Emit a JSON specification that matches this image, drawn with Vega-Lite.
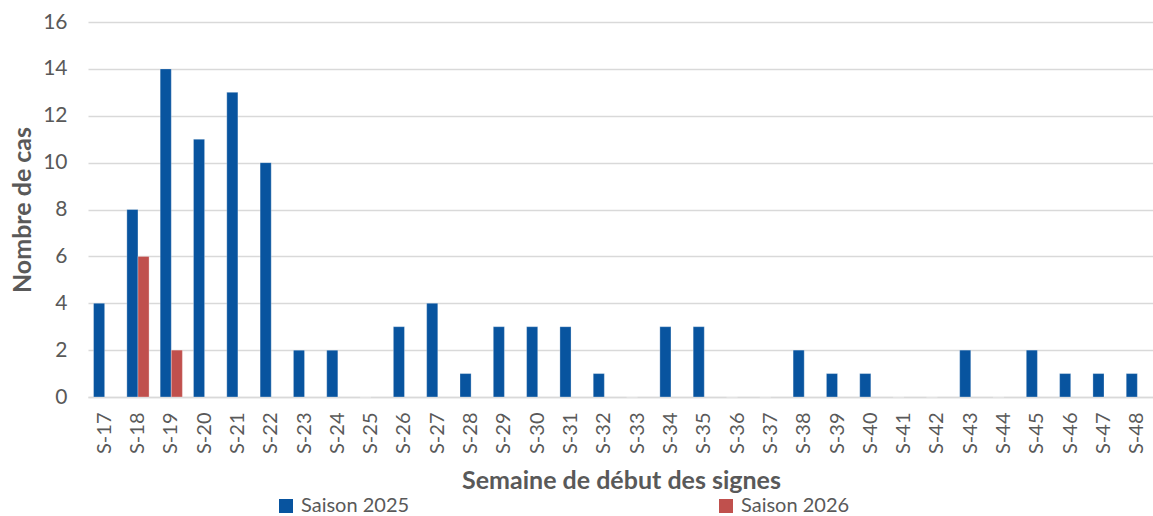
{
  "$schema": "https://vega.github.io/schema/vega-lite/v6.json",
  "width": 1066,
  "height": 375,
  "autosize": "none",
  "padding": {"left": 88, "top": 22, "right": 0, "bottom": 119},
  "background": "white",
  "config": {
    "font": "Lato",
    "view": {"stroke": null},
    "axis": {"labelColor": "#595959", "titleColor": "#595959", "labelFont": "Lato", "titleFont": "Lato"}
  },
  "data": {"values": [
    {"semaine": "S-17", "saison": "Saison 2025", "cas": 4},
    {"semaine": "S-18", "saison": "Saison 2025", "cas": 8},
    {"semaine": "S-18", "saison": "Saison 2026", "cas": 6},
    {"semaine": "S-19", "saison": "Saison 2025", "cas": 14},
    {"semaine": "S-19", "saison": "Saison 2026", "cas": 2},
    {"semaine": "S-20", "saison": "Saison 2025", "cas": 11},
    {"semaine": "S-21", "saison": "Saison 2025", "cas": 13},
    {"semaine": "S-22", "saison": "Saison 2025", "cas": 10},
    {"semaine": "S-23", "saison": "Saison 2025", "cas": 2},
    {"semaine": "S-24", "saison": "Saison 2025", "cas": 2},
    {"semaine": "S-25", "saison": "Saison 2025", "cas": 0},
    {"semaine": "S-26", "saison": "Saison 2025", "cas": 3},
    {"semaine": "S-27", "saison": "Saison 2025", "cas": 4},
    {"semaine": "S-28", "saison": "Saison 2025", "cas": 1},
    {"semaine": "S-29", "saison": "Saison 2025", "cas": 3},
    {"semaine": "S-30", "saison": "Saison 2025", "cas": 3},
    {"semaine": "S-31", "saison": "Saison 2025", "cas": 3},
    {"semaine": "S-32", "saison": "Saison 2025", "cas": 1},
    {"semaine": "S-33", "saison": "Saison 2025", "cas": 0},
    {"semaine": "S-34", "saison": "Saison 2025", "cas": 3},
    {"semaine": "S-35", "saison": "Saison 2025", "cas": 3},
    {"semaine": "S-36", "saison": "Saison 2025", "cas": 0},
    {"semaine": "S-37", "saison": "Saison 2025", "cas": 0},
    {"semaine": "S-38", "saison": "Saison 2025", "cas": 2},
    {"semaine": "S-39", "saison": "Saison 2025", "cas": 1},
    {"semaine": "S-40", "saison": "Saison 2025", "cas": 1},
    {"semaine": "S-41", "saison": "Saison 2025", "cas": 0},
    {"semaine": "S-42", "saison": "Saison 2025", "cas": 0},
    {"semaine": "S-43", "saison": "Saison 2025", "cas": 2},
    {"semaine": "S-44", "saison": "Saison 2025", "cas": 0},
    {"semaine": "S-45", "saison": "Saison 2025", "cas": 2},
    {"semaine": "S-46", "saison": "Saison 2025", "cas": 1},
    {"semaine": "S-47", "saison": "Saison 2025", "cas": 1},
    {"semaine": "S-48", "saison": "Saison 2025", "cas": 1}
  ]},
  "mark": {"type": "bar", "stroke": "#ffffff", "strokeWidth": 0.6, "strokeOpacity": 0.5},
  "encoding": {
    "x": {
      "field": "semaine", "type": "nominal", "sort": "ascending",
      "scale": {"paddingInner": 0.333, "paddingOuter": 0.1665},
      "axis": {
        "title": "Semaine de début des signes",
        "titleFontSize": 25, "titleFontWeight": "bold", "titlePadding": 15,
        "labelAngle": -90, "labelFontSize": 20, "labelPadding": 15,
        "ticks": false, "domainColor": "#D9D9D9", "domainWidth": 1.5, "grid": false
      }
    },
    "xOffset": {"field": "saison", "type": "nominal", "scale": {"domain": ["Saison 2025", "Saison 2026"], "paddingInner": 0, "paddingOuter": 0}},
    "y": {
      "field": "cas", "type": "quantitative",
      "scale": {"domain": [0, 16], "nice": false},
      "axis": {
        "title": "Nombre de cas", "titleFontSize": 25, "titleFontWeight": "bold", "titlePadding": 7,
        "values": [0, 2, 4, 6, 8, 10, 12, 14, 16],
        "labelFontSize": 21, "labelPadding": 21,
        "ticks": false, "domain": false, "gridColor": "#D9D9D9", "gridWidth": 1.3
      }
    },
    "color": {
      "field": "saison", "type": "nominal",
      "scale": {"domain": ["Saison 2025", "Saison 2026"], "range": ["#08549F", "#C0504D"]},
      "legend": {
        "title": null, "orient": "none", "legendX": 188, "legendY": 474,
        "direction": "horizontal", "columnPadding": 306,
        "symbolType": "square", "symbolSize": 196, "symbolStrokeWidth": 0,
        "labelFontSize": 20, "labelColor": "#595959", "labelFont": "Lato", "labelOffset": 5
      }
    }
  }
}
